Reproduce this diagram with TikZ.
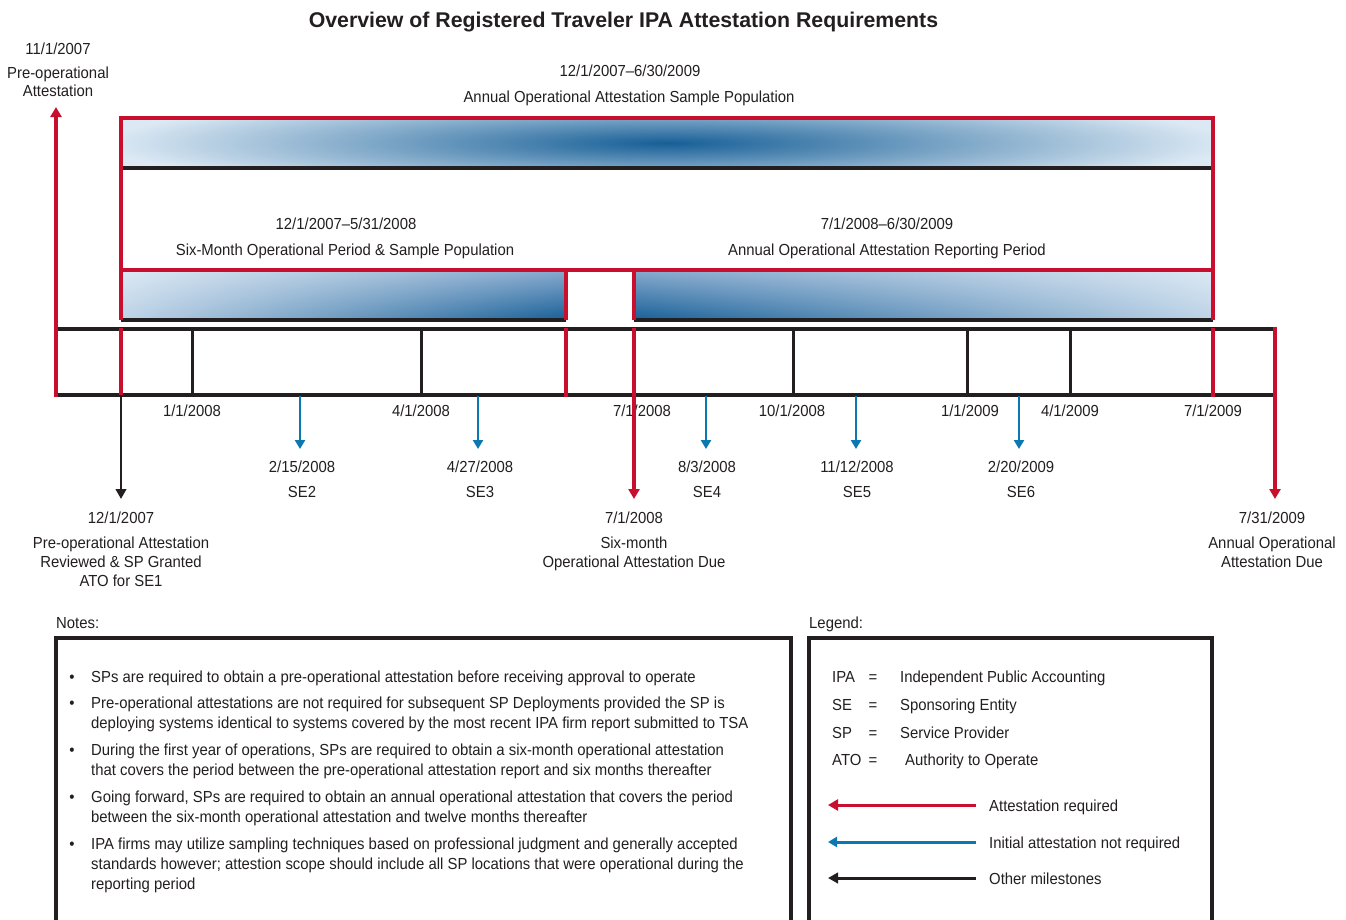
\documentclass[tikz,border=0pt]{standalone}
\usepackage{fontspec}
\setmainfont{Liberation Sans}[FakeStretch=0.93]
\newfontfamily\titlefont{Liberation Sans}
\usetikzlibrary{arrows.meta,shadings}
\definecolor{rd}{HTML}{C8102E}
\definecolor{bl}{HTML}{0B78B2}
\definecolor{ink}{HTML}{231F20}
\definecolor{lightb}{HTML}{DCE9F4}
\definecolor{darkb}{HTML}{175F97}
\definecolor{midb}{HTML}{88AACE}
\definecolor{midl}{HTML}{BED3E7}
\begin{document}
\begin{tikzpicture}[x=1pt,y=-1pt,
  every node/.style={inner sep=0pt, text=ink},
  lab/.style={font=\fontsize{16}{19}\selectfont, anchor=base},
  labw/.style={lab, anchor=base west},
  redln/.style={draw=rd, line width=3.5pt},
  redarr/.style={redln, -{Triangle[length=10pt,width=11pt]}},
  bluarr/.style={draw=bl, line width=2.6pt, -{Triangle[length=9pt,width=10pt]}},
  blkarr/.style={draw=ink, line width=2.6pt, -{Triangle[length=10pt,width=10.5pt]}},
  tline/.style={draw=ink, line width=4pt},
  divider/.style={draw=ink, line width=3pt},
  boxln/.style={draw=ink, line width=4pt}]
\useasboundingbox[fill=white] (0,0) rectangle (1346,919);
\clip (0,0) rectangle (1346,919);

% ---------- title ----------
\node[anchor=base, font=\titlefont\bfseries\fontsize{21.3}{24}\selectfont] (title) at (623.5,27.3)
  {Overview of Registered Traveler IPA Attestation Requirements};

% ---------- shaded bars ----------
\fill[lightb] (121,118) rectangle (1213,168);
\begin{scope}
  \clip (121,118) rectangle (1213,168);
  \shade[inner color=darkb, outer color=lightb] (667,143) ellipse (560 and 50);
\end{scope}
\shade[upper left=lightb, upper right=midb, lower left=midl, lower right=darkb] (121,270) rectangle (566,320);
\shade[upper left=midb, upper right=lightb, lower left=darkb, lower right=midl] (634,270) rectangle (1213,320);
\draw[tline] (121,168) -- (1213,168);
\draw[tline] (121,320) -- (566,320);
\draw[tline] (634,320) -- (1213,320);

% ---------- timeline ----------
\coordinate (tlL) at (56,328.5);
\coordinate (tlR) at (1275,328.5);
\coordinate (blL) at (56,395);
\coordinate (blR) at (1275,395);
\draw[tline] (tlL) -- (tlR);
\draw[tline] (blL) -- (blR);
\foreach \x in {192,421,793,967,1070}
  \draw[divider] (\x,328.5) -- (\x,395);

% ---------- labels ----------
\node[lab] (l1) at (58,54.5) {11/1/2007};
\node[lab] (l2) at (58,78.3) {Pre-operational};
\node[lab] (l3) at (58,96.7) {Attestation};

\node[lab] (a1) at (630,76) {12/1/2007--6/30/2009};
\node[lab] (a2) at (629,102) {Annual Operational Attestation Sample Population};
\node[lab] (b1) at (346,229) {12/1/2007--5/31/2008};
\node[lab] (b2) at (345,255) {Six-Month Operational Period \& Sample Population};
\node[lab] (c1) at (887,229) {7/1/2008--6/30/2009};
\node[lab] (c2) at (887,255) {Annual Operational Attestation Reporting Period};

\node[lab] (d1) at (192,416) {1/1/2008};
\node[lab] (d2) at (421,416) {4/1/2008};
\node[lab] (d3) at (642,416) {7/1/2008};
\node[lab] (d4) at (792,416) {10/1/2008};
\node[lab] (d5) at (970,416) {1/1/2009};
\node[lab] (d6) at (1070,416) {4/1/2009};
\node[lab] (d7) at (1213,416) {7/1/2009};

\node[lab] (s2a) at (302,472) {2/15/2008};
\node[lab] (s2b) at (302,497) {SE2};
\node[lab] (s3a) at (480,472) {4/27/2008};
\node[lab] (s3b) at (480,497) {SE3};
\node[lab] (s4a) at (707,472) {8/3/2008};
\node[lab] (s4b) at (707,497) {SE4};
\node[lab] (s5a) at (857,472) {11/12/2008};
\node[lab] (s5b) at (857,497) {SE5};
\node[lab] (s6a) at (1021,472) {2/20/2009};
\node[lab] (s6b) at (1021,497) {SE6};

\node[lab] (e1) at (121,523) {12/1/2007};
\node[lab] (e2) at (121,548) {Pre-operational Attestation};
\node[lab] (e3) at (121,567) {Reviewed \& SP Granted};
\node[lab] (e4) at (121,586) {ATO for SE1};

\node[lab] (f1) at (634,523) {7/1/2008};
\node[lab] (f2) at (634,548) {Six-month};
\node[lab] (f3) at (634,567) {Operational Attestation Due};

\node[lab] (g1) at (1272,523.3) {7/31/2009};
\node[lab] (g2) at (1272,548.3) {Annual Operational};
\node[lab] (g3) at (1272,567.3) {Attestation Due};

% ---------- red structure ----------
\draw[redln, line join=miter] (121,320) -- (121,118) -- (1213,118) -- (1213,320);
\draw[redln] (121,270) -- (1213,270);
\draw[redln] (566,270) -- (566,320);
\draw[redln] (634,270) -- (634,320);
\draw[redln] (121,328) -- (121,395);
\draw[redln] (566,328) -- (566,396.7);
\draw[redln] (1213,328) -- (1213,396.7);

% ---------- arrows ----------
\coordinate (preTip) at (56,107);
\coordinate (sixTop) at (634,328);
\coordinate (sixTip) at (634,499);
\coordinate (annTip) at (1275,499);
\coordinate (atoTop) at (121,395);
\coordinate (atoTip) at (121,499);
\draw[redarr] (56,396.7) -- (preTip);
\draw[redarr] (sixTop) -- (sixTip);
\draw[redarr] (1275,326.5) -- (annTip);
\draw[blkarr] (atoTop) -- (atoTip);
\foreach \x/\n in {300/se2,478/se3,706/se4,856/se5,1019/se6}{
  \coordinate (\n top) at (\x,396);
  \coordinate (\n tip) at (\x,449);
  \draw[bluarr] (\n top) -- (\n tip);
}

% ---------- notes ----------
\node[labw] (notesT) at (56,628) {Notes:};
\draw[boxln] (56,638) rectangle (791,940);
\foreach \y in {682,708,755,802,849}
  \node[lab] at (72,\y) {\textbullet};
\node[labw] (n1) at (91,682) {SPs are required to obtain a pre-operational attestation before receiving approval to operate};
\node[labw] (n2) at (91,708) {Pre-operational attestations are not required for subsequent SP Deployments provided the SP is};
\node[labw] (n2b) at (91,728) {deploying systems identical to systems covered by the most recent IPA firm report submitted to TSA};
\node[labw] (n3) at (91,755) {During the first year of operations, SPs are required to obtain a six-month operational attestation};
\node[labw] (n3b) at (91,775) {that covers the period between the pre-operational attestation report and six months thereafter};
\node[labw] (n4) at (91,802) {Going forward, SPs are required to obtain an annual operational attestation that covers the period};
\node[labw] (n4b) at (91,822) {between the six-month operational attestation and twelve months thereafter};
\node[labw] (n5) at (91,849) {IPA firms may utilize sampling techniques based on professional judgment and generally accepted};
\node[labw] (n5b) at (91,869) {standards however; attestion scope should include all SP locations that were operational during the};
\node[labw] (n5c) at (91,889) {reporting period};

% ---------- legend ----------
\node[labw] (legT) at (809,628) {Legend:};
\draw[boxln] (809,638) rectangle (1212,940);
\node[labw] (k1) at (832,682) {IPA};
\node[lab] at (873,682) {=};
\node[labw] (v1) at (900,682) {Independent Public Accounting};
\node[labw] (k2) at (832,710) {SE};
\node[lab] at (873,710) {=};
\node[labw] (v2) at (900,710) {Sponsoring Entity};
\node[labw] (k3) at (832,738) {SP};
\node[lab] at (873,738) {=};
\node[labw] (v3) at (900,738) {Service Provider};
\node[labw] (k4) at (832,765) {ATO};
\node[lab] at (873,765) {=};
\node[labw] (v4) at (905,765) {Authority to Operate};

\coordinate (r1s) at (976,805); \coordinate (r1e) at (828,805);
\coordinate (r2s) at (976,842); \coordinate (r2e) at (828,842);
\coordinate (r3s) at (976,878); \coordinate (r3e) at (828,878);
\draw[redarr, line width=3pt] (r1s) -- (r1e);
\draw[bluarr, line width=3pt] (r2s) -- (r2e);
\draw[blkarr, line width=3pt] (r3s) -- (r3e);
\node[labw] (x1) at (989,811) {Attestation required};
\node[labw] (x2) at (989,848) {Initial attestation not required};
\node[labw] (x3) at (989,884) {Other milestones};
\end{tikzpicture}
\end{document}
